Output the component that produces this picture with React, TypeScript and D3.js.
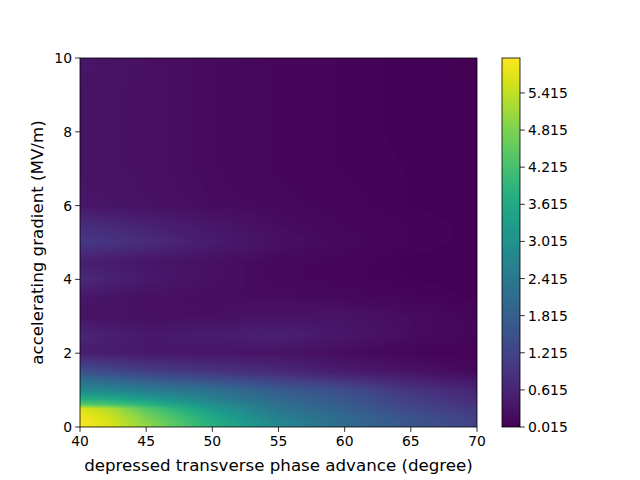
import React, { useMemo } from "react";
import * as d3 from "d3";

// grid coordinates
const xNodes = [40, 42.5, 45, 50, 55, 60, 65, 70];
const yNodes = [0, 0.25, 0.5, 0.6, 0.75, 1, 1.25, 1.5, 2, 2.5, 3, 3.5, 4, 4.5, 5, 5.5, 6, 7, 8, 9, 10];

// values per row (one row per yNodes entry, columns follow xNodes)
const zRows: number[][] = [
  [5.95, 5.6, 5.0, 3.8, 2.8, 2.1, 1.6, 1.2],
  [5.9, 5.5, 4.8, 3.6, 2.6, 2.0, 1.5, 1.1],
  [5.7, 5.2, 4.4, 3.2, 2.3, 1.8, 1.3, 0.95],
  [4.5, 4.3, 3.9, 3.0, 2.2, 1.7, 1.2, 0.85],
  [3.8, 3.6, 3.3, 2.6, 2.0, 1.6, 1.1, 0.75],
  [2.8, 2.7, 2.5, 2.2, 1.7, 1.4, 0.9, 0.6],
  [2.2, 2.0, 1.8, 1.5, 1.2, 0.9, 0.6, 0.35],
  [1.5, 1.3, 1.1, 0.9, 0.7, 0.45, 0.3, 0.15],
  [0.5, 0.45, 0.4, 0.35, 0.3, 0.2, 0.1, 0.06],
  [0.65, 0.5, 0.4, 0.45, 0.55, 0.35, 0.2, 0.12],
  [0.3, 0.28, 0.25, 0.25, 0.3, 0.3, 0.2, 0.1],
  [0.35, 0.3, 0.25, 0.2, 0.2, 0.15, 0.1, 0.05],
  [0.7, 0.55, 0.4, 0.25, 0.15, 0.1, 0.06, 0.04],
  [0.5, 0.45, 0.35, 0.25, 0.15, 0.1, 0.05, 0.04],
  [1.0, 0.9, 0.75, 0.45, 0.25, 0.15, 0.08, 0.05],
  [0.75, 0.65, 0.55, 0.35, 0.2, 0.12, 0.08, 0.05],
  [0.35, 0.32, 0.28, 0.2, 0.15, 0.1, 0.06, 0.04],
  [0.3, 0.28, 0.25, 0.18, 0.12, 0.08, 0.06, 0.04],
  [0.3, 0.28, 0.25, 0.18, 0.12, 0.08, 0.05, 0.04],
  [0.3, 0.28, 0.25, 0.18, 0.12, 0.08, 0.05, 0.04],
  [0.35, 0.3, 0.25, 0.18, 0.12, 0.08, 0.05, 0.03],
];

const xTicks = [40, 45, 50, 55, 60, 65, 70];
const yTicks = [0, 2, 4, 6, 8, 10];
const cbTicks = [0.015, 0.615, 1.215, 1.815, 2.415, 3.015, 3.615, 4.215, 4.815, 5.415];
const zMin = 0.015;
const zMax = 5.98;

const W = 640, H = 480;
const L = 80, R = 477, T = 58, B = 427;
const CBL = 502, CBR = 520;
const FONT = "DejaVu Sans, sans-serif";

function sample(x: number, y: number): number {
  let i = d3.bisectRight(xNodes, x) - 1;
  i = Math.max(0, Math.min(xNodes.length - 2, i));
  let j = d3.bisectRight(yNodes, y) - 1;
  j = Math.max(0, Math.min(yNodes.length - 2, j));
  const tx = Math.max(0, Math.min(1, (x - xNodes[i]) / (xNodes[i + 1] - xNodes[i])));
  const ty = Math.max(0, Math.min(1, (y - yNodes[j]) / (yNodes[j + 1] - yNodes[j])));
  const a = zRows[j][i], b = zRows[j][i + 1], c = zRows[j + 1][i], d = zRows[j + 1][i + 1];
  return (a * (1 - tx) + b * tx) * (1 - ty) + (c * (1 - tx) + d * tx) * ty;
}

export default function App() {
  const x = d3.scaleLinear().domain([40, 70]).range([L, R]);
  const y = d3.scaleLinear().domain([0, 10]).range([B, T]);
  const color = d3.scaleSequential(d3.interpolateViridis).domain([zMin, zMax]);
  const cbY = d3.scaleLinear().domain([zMin, zMax]).range([B, T]);

  const heatUrl = useMemo(() => {
    const w = R - L, h = B - T;
    const canvas = document.createElement("canvas");
    canvas.width = w;
    canvas.height = h;
    const ctx = canvas.getContext("2d")!;
    const img = ctx.createImageData(w, h);
    for (let py = 0; py < h; py++) {
      const yv = y.invert(T + py + 0.5);
      for (let px = 0; px < w; px++) {
        const xv = x.invert(L + px + 0.5);
        const c = d3.rgb(color(sample(xv, yv)));
        const k = (py * w + px) * 4;
        img.data[k] = c.r;
        img.data[k + 1] = c.g;
        img.data[k + 2] = c.b;
        img.data[k + 3] = 255;
      }
    }
    ctx.putImageData(img, 0, 0);
    return canvas.toDataURL();
  }, []);

  const stops = d3.range(0, 1.0001, 0.02);

  return (
    <svg width={W} height={H} style={{ display: "block", position: "absolute", left: 0, top: 0 }} fontFamily={FONT}>
      <rect width={W} height={H} fill="#fff" />
      <defs>
        <linearGradient id="cb" x1="0" y1="1" x2="0" y2="0">
          {stops.map((s) => (
            <stop key={s} offset={s} stopColor={d3.interpolateViridis(s)} />
          ))}
        </linearGradient>
      </defs>
      <image href={heatUrl} x={L} y={T} width={R - L} height={B - T} preserveAspectRatio="none" />
      <rect x={L} y={T} width={R - L} height={B - T} fill="none" stroke="#000" strokeWidth={0.8} />
      {xTicks.map((t) => (
        <g key={t}>
          <line x1={x(t)} x2={x(t)} y1={B} y2={B + 4.9} stroke="#000" strokeWidth={0.8} />
          <text x={x(t)} y={B + 19} textAnchor="middle" fontSize={13.9} fill="#000">{t}</text>
        </g>
      ))}
      {yTicks.map((t) => (
        <g key={t}>
          <line x1={L - 4.9} x2={L} y1={y(t)} y2={y(t)} stroke="#000" strokeWidth={0.8} />
          <text x={L - 8} y={y(t) + 5} textAnchor="end" fontSize={13.9} fill="#000">{t}</text>
        </g>
      ))}
      <text x={(L + R) / 2} y={471} textAnchor="middle" fontSize={16.67} fill="#000">
        depressed transverse phase advance (degree)
      </text>
      <text transform={`translate(43,${(T + B) / 2}) rotate(-90)`} textAnchor="middle" fontSize={16.67} fill="#000">
        accelerating gradient (MV/m)
      </text>
      <rect x={CBL} y={T} width={CBR - CBL} height={B - T} fill="url(#cb)" />
      <rect x={CBL} y={T} width={CBR - CBL} height={B - T} fill="none" stroke="#000" strokeWidth={0.8} />
      {cbTicks.map((t) => (
        <g key={t}>
          <line x1={CBR} x2={CBR + 4.9} y1={cbY(t)} y2={cbY(t)} stroke="#000" strokeWidth={0.8} />
          <text x={CBR + 8} y={cbY(t) + 5} textAnchor="start" fontSize={13.9} fill="#000">{t.toFixed(3)}</text>
        </g>
      ))}
    </svg>
  );
}
